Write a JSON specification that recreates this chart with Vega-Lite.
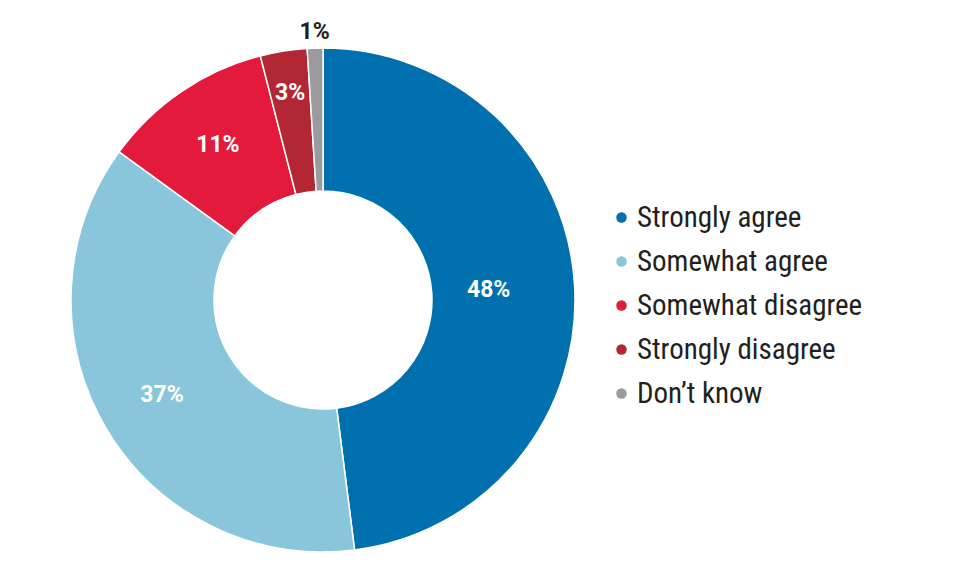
{
  "$schema": "https://vega.github.io/schema/vega-lite/v6.json",
  "width": 560,
  "height": 528,
  "autosize": {"type": "none"},
  "padding": {"left": 43, "top": 36, "right": 363, "bottom": 0},
  "background": "white",
  "data": {
    "values": [
      {"answer": "Strongly agree", "pct": 48, "rank": 1, "label": "48%"},
      {"answer": "Somewhat agree", "pct": 37, "rank": 2, "label": "37%"},
      {"answer": "Somewhat disagree", "pct": 11, "rank": 3, "label": "11%"},
      {"answer": "Strongly disagree", "pct": 3, "rank": 4, "label": "3%"},
      {"answer": "Don’t know", "pct": 1, "rank": 5, "label": "1%"}
    ]
  },
  "encoding": {
    "theta": {"field": "pct", "type": "quantitative", "stack": true},
    "order": {"field": "rank", "type": "quantitative"},
    "detail": {"field": "answer", "type": "nominal"}
  },
  "layer": [
    {
      "mark": {"type": "arc", "outerRadius": 252, "innerRadius": 109, "stroke": "white", "strokeWidth": 1.5},
      "encoding": {
        "color": {
          "field": "answer",
          "type": "nominal",
          "sort": ["Strongly agree", "Somewhat agree", "Somewhat disagree", "Strongly disagree", "Don’t know"],
          "scale": {
            "domain": ["Strongly agree", "Somewhat agree", "Somewhat disagree", "Strongly disagree", "Don’t know"],
            "range": ["#0071AE", "#89C6DB", "#E31A3C", "#B32634", "#9B9B9F"]
          },
          "legend": {
            "title": null,
            "orient": "none",
            "legendX": 564,
            "legendY": 167,
            "symbolType": "circle",
            "symbolSize": 110,
            "symbolStrokeWidth": 0,
            "labelFont": "Liberation Sans Narrow, Roboto Condensed, Roboto",
            "labelFontSize": 29,
            "labelColor": "#231F20",
            "labelOffset": 1,
            "rowPadding": 14,
            "labelLimit": 400
          }
        }
      }
    },
    {
      "mark": {"type": "text", "radius": 166, "font": "Liberation Sans Narrow, Roboto", "fontWeight": "bold", "fontSize": 23, "align": "center", "baseline": "middle", "color": "white"},
      "encoding": {
        "text": {"condition": {"test": "datum.answer === 'Strongly agree'", "field": "label"}, "value": ""}
      }
    },
    {
      "mark": {"type": "text", "radius": 187, "font": "Liberation Sans Narrow, Roboto", "fontWeight": "bold", "fontSize": 23, "align": "center", "baseline": "middle", "color": "white"},
      "encoding": {
        "text": {"condition": {"test": "datum.answer === 'Somewhat agree' || datum.answer === 'Somewhat disagree'", "field": "label"}, "value": ""}
      }
    },
    {
      "mark": {"type": "text", "radius": 210, "font": "Liberation Sans Narrow, Roboto", "fontWeight": "bold", "fontSize": 23, "align": "center", "baseline": "middle", "color": "white"},
      "encoding": {
        "text": {"condition": {"test": "datum.answer === 'Strongly disagree'", "field": "label"}, "value": ""}
      }
    },
    {
      "mark": {"type": "text", "radius": 268, "font": "Liberation Sans Narrow, Roboto", "fontWeight": "bold", "fontSize": 23, "align": "center", "baseline": "middle", "color": "#231F20"},
      "encoding": {
        "text": {"condition": {"test": "datum.answer === 'Don’t know'", "field": "label"}, "value": ""}
      }
    }
  ]
}
